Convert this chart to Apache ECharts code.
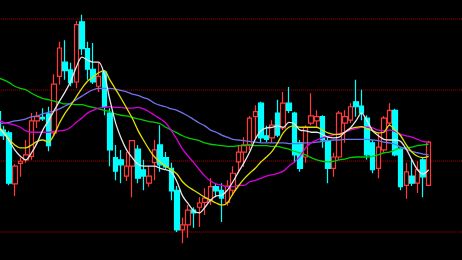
<!DOCTYPE html>
<html><head><meta charset="utf-8">
<script src="https://cdn.jsdelivr.net/npm/echarts/dist/echarts.min.js"></script>
<style>html,body{margin:0;padding:0;background:#000;overflow:hidden}#c{width:462px;height:260px;}</style>
</head><body><div id="c"></div>
<script>
const days = ['1','2','3','4','5','6','7','8','9','10','11','12','13','14','15','16','17','18','19','20','21','22','23','24','25','26','27','28','29','30','31','32','33','34','35','36','37','38','39','40','41','42','43','44','45','46','47','48','49','50','51','52','53','54','55','56','57','58','59','60','61','62','63','64','65','66','67','68','69','70','71','72','73','74','75','76','77','78','','','','','',''];
const open = [11.69,11.43,11.39,10.67,10.96,11.01,11.06,11.56,11.61,11.66, 11.39,12.19,12.39,12.28,12.11,12.96,12.58,12.29,12.05,12.25, 11.67,11.04,11.01,10.78,10.92,11.16,10.87,10.68,10.97,11.22, 11.04,10.89,10.58,10.02,10.09,10.30,10.34,10.41,10.44,10.63, 10.58,10.41,10.58,10.98,11.12,11.22,11.62,11.81,11.35,11.32, 11.67,11.46,11.81,11.67,11.25,11.05,11.53,11.56,11.62,11.28, 10.89,11.05,11.53,11.57,11.83,11.77,11.60,11.25,10.89,11.15, 11.53,11.71,11.16,10.65,10.78,10.68,11.01,10.65];
const close = [11.35,11.35,10.68,10.92,10.99,11.08,11.56,11.62,11.59,11.21, 12.08,12.59,12.27,12.10,12.92,12.58,12.29,12.11,12.19,11.76, 11.15,10.85,10.94,10.92,11.28,10.75,10.78,10.78,11.15,10.94, 10.91,10.57,10.02,10.09,10.30,10.26,10.40,10.47,10.63,10.57, 10.47,10.64,10.82,11.12,11.22,11.60,11.69,11.32,11.30,11.50, 11.36,11.81,11.71,11.08,10.89,11.47,11.63,11.62,11.29,10.89, 11.05,11.67,11.62,11.76,11.76,11.67,11.08,10.87,11.19,11.60, 11.71,11.08,10.63,10.84,10.68,10.87,10.77,11.26];
const low = [11.29,11.29,10.65,10.50,10.77,10.97,11.01,11.46,11.56,11.13, 11.35,12.07,12.14,12.05,12.02,12.49,12.14,12.08,11.97,11.64, 10.92,10.72,10.68,10.71,10.48,10.68,10.58,10.63,10.72,10.84, 10.87,10.44,9.99,9.83,9.91,10.05,10.06,10.23,10.37,10.48, 10.13,10.36,10.50,10.82,10.91,11.15,11.32,11.25,11.26,11.25, 11.33,11.43,11.67,10.97,10.84,10.97,11.50,11.47,11.18,10.68, 10.77,11.01,11.25,11.53,11.62,11.57,11.01,10.82,10.75,11.12, 11.50,11.06,10.58,10.46,10.64,10.54,10.48,10.64];
const high = [11.74,11.49,11.42,10.95,11.04,11.29,11.67,11.69,11.74,11.76, 12.22,12.68,12.70,12.38,12.97,13.06,12.68,12.66,12.39,12.28, 11.74,11.22,11.15,11.12,11.29,11.22,11.01,10.92,11.29,11.50, 11.12,10.97,10.64,10.19,10.37,10.34,10.48,10.61,10.75,10.68, 10.68,10.72,10.92,11.21,11.33,11.63,11.78,11.83,11.49,11.57, 11.86,11.97,12.04,11.69,11.29,11.50,11.95,11.71,11.64,11.33, 11.11,11.70,11.71,11.81,12.14,12.00,11.64,11.29,11.39,11.63, 11.81,11.73,11.18,10.97,11.01,10.99,11.04,11.28];
const ma5 = [11.47,11.39,11.28,11.15,11.06,11.01,11.11,11.25,11.43,11.56, 11.70,11.84,11.97,12.12,12.32,12.46,12.42,12.39,12.39,12.22, 11.86,11.54,11.32,11.15,11.04,10.95,10.92,10.92,10.92,10.89, 10.87,10.84,10.70,10.50,10.39,10.29,10.26,10.34,10.44,10.50, 10.51,10.58,10.70,10.84,10.97,11.12,11.30,11.42,11.46,11.47, 11.49,11.47,11.54,11.52,11.43,11.42,11.40,11.40,11.37,11.33, 11.32,11.33,11.40,11.46,11.56,11.67,11.56,11.42,11.35,11.30, 11.29,11.29,11.27,11.16,11.01,10.87,10.81,10.87];
const ma10 = [11.50,11.40,11.30,11.22,11.18,11.18,11.22,11.27,11.29,11.26, 11.36,11.53,11.67,11.78,11.90,12.02,12.12,12.18,12.24,12.27, 12.14,12.01,11.88,11.74,11.60,11.43,11.29,11.16,11.05,10.98, 10.92,10.87,10.81,10.70,10.63,10.58,10.53,10.48,10.44,10.40, 10.37,10.40,10.53,10.64,10.74,10.82,10.89,10.98,11.05,11.13, 11.25,11.39,11.47,11.49,11.47,11.47,11.47,11.47,11.43,11.39, 11.37,11.37,11.40,11.45,11.47,11.48,11.45,11.42,11.39,11.40, 11.50,11.43,11.35,11.22,11.12,11.06,11.04,11.06];
const ma20 = [11.57,11.54,11.52,11.50,11.47,11.42,11.40,11.40,11.40,11.40, 11.41,11.42,11.43,11.47,11.54,11.60,11.67,11.71,11.74,11.75, 11.76,11.75,11.75,11.74,11.74,11.75,11.73,11.69,11.64,11.59, 11.53,11.42,11.30,11.16,11.06,10.97,10.87,10.78,10.71,10.67, 10.65,10.63,10.63,10.65,10.65,10.70,10.72,10.75,10.78,10.80, 10.82,10.85,10.92,10.98,11.06,11.18,11.25,11.29,11.32,11.34, 11.36,11.38,11.40,11.43,11.45,11.47,11.47,11.46,11.43,11.42, 11.43,11.41,11.37,11.35,11.33,11.30,11.27,11.25];
const ma30 = [11.52,11.53,11.54,11.56,11.57,11.59,11.62,11.63,11.66,11.68, 11.70,11.73,11.77,11.81,11.86,11.91,11.96,12.00,12.02,12.02, 12.02,12.01,11.99,11.97,11.94,11.92,11.89,11.86,11.81,11.78, 11.76,11.73,11.71,11.67,11.63,11.58,11.53,11.49,11.43,11.40, 11.36,11.33,11.30,11.29,11.28,11.27,11.26,11.25,11.25,11.25, 11.25,11.25,11.24,11.24,11.24,11.25,11.25,11.26,11.27,11.28, 11.29,11.29,11.30,11.30,11.30,11.30,11.30,11.29,11.28,11.26, 11.25,11.23,11.19,11.16,11.13,11.11,11.09,11.08];
const ma60 = [12.17,12.14,12.10,12.05,12.02,12.00,11.95,11.91,11.88,11.86, 11.84,11.82,11.80,11.80,11.79,11.79,11.77,11.75,11.73,11.71, 11.69,11.66,11.64,11.63,11.61,11.59,11.57,11.55,11.54,11.52, 11.47,11.43,11.39,11.35,11.32,11.30,11.28,11.25,11.23,11.22, 11.21,11.20,11.20,11.21,11.21,11.22,11.21,11.21,11.21,11.20, 11.20,11.18,11.16,11.13,11.11,11.08,11.04,11.01,10.99,10.98, 10.99,11.01,11.02,11.04,11.05,11.05,11.05,11.06,11.08,11.11, 11.12,11.15,11.18,11.18,11.19,11.21,11.22,11.23];

const candles = open.map((o, i) => [o, close[i], low[i], high[i]]);
function maLine(data, color) {
  return {type: 'line', data: data, smooth: 0.3, showSymbol: false, symbol: 'none', z: 3,
    lineStyle: {color: color, width: 1.3}};
}
const chart = echarts.init(document.getElementById('c'));
chart.setOption({
  backgroundColor: '#000',
  animation: false,
  grid: {left: -4.8, right: -3, top: -51.77, bottom: -42.07, outerBoundsMode: 'none'},
  xAxis: {type: 'category', data: days, boundaryGap: true,
    axisLine: {show: false}, axisTick: {show: false}, axisLabel: {show: false}, splitLine: {show: false}},
  yAxis: {type: 'value', min: 9, max: 14, interval: 1, scale: true,
    axisLine: {show: false}, axisTick: {show: false}, axisLabel: {show: false},
    splitLine: {show: true, lineStyle: {color: '#7a0000', type: [1, 1], width: 1.5}}},
  series: [
    {type: 'candlestick', data: candles, barWidth: 5, z: 2,
      itemStyle: {color: '#000', color0: '#00ffff', borderColor: '#ff3a3a', borderColor0: '#00ffff', borderWidth: 1.2}},
    maLine(ma60, '#00cc00'),
    maLine(ma30, '#7272ea'),
    maLine(ma20, '#d800d8'),
    maLine(ma10, '#e0e000'),
    maLine(ma5, '#e6e6e6')
  ]
});
</script></body></html>
